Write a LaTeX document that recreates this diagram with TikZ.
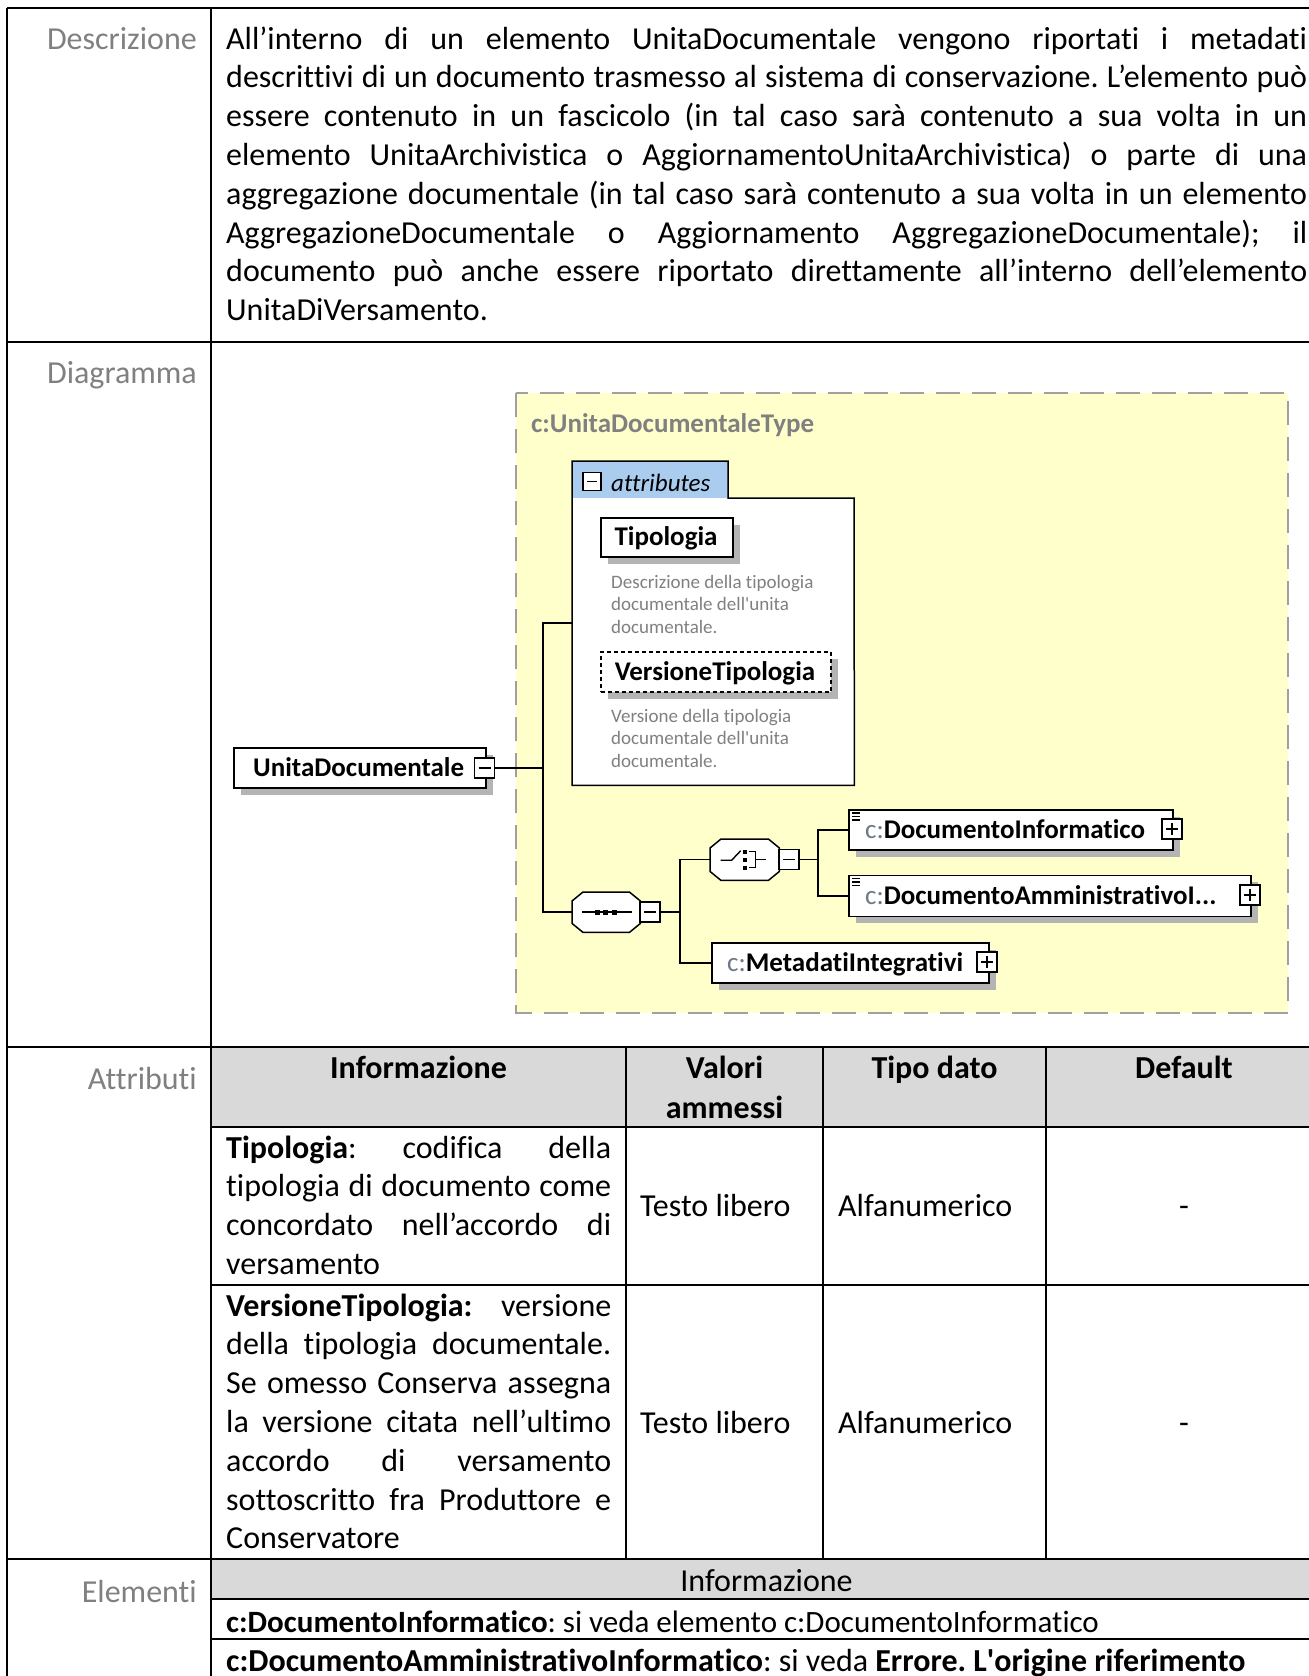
\documentclass[tikz,border=0pt]{standalone}
\usepackage{fontspec}
\setmainfont{Carlito}[Ligatures=NoCommon]
\usetikzlibrary{calc,shadows}

\definecolor{lblgray}{RGB}{128,128,128}
\definecolor{hdrgray}{RGB}{217,217,217}
\definecolor{typeyellow}{RGB}{255,255,204}
\definecolor{dashgray}{RGB}{160,160,160}
\definecolor{tabblue}{RGB}{170,204,238}
\definecolor{shadowc}{RGB}{180,180,180}
\definecolor{prefixgray}{RGB}{110,120,135}

\newcommand\jl[1]{\makebox[\linewidth][s]{#1}}
\newcommand\bodysize{\fontsize{32}{38.8}\selectfont}
\newcommand\elsize{\fontsize{27}{31}\selectfont}
\newcommand\notesize{\fontsize{19}{22.5}\selectfont}

\begin{document}
\frenchspacing
\begin{tikzpicture}[x=1pt,y=-1pt,
  rule/.style={line width=1.6, black},
  lbl/.style={anchor=base east, inner sep=0, text=lblgray, font=\bodysize},
  cell/.style={anchor=base west, inner sep=0, font=\bodysize},
  ccell/.style={anchor=base, inner sep=0, font=\bodysize},
  hcell/.style={anchor=base, inner sep=0, font=\bodysize\bfseries},
  elem/.style={draw=black, line width=1.5, fill=white, inner sep=0, anchor=north west,
    drop shadow={shadow xshift=7pt, shadow yshift=-7pt, fill=shadowc, opacity=1}},
  frame/.style={inner sep=0, anchor=north west},
  sq/.style={draw=black, line width=1.3, fill=white, minimum size=20, inner sep=0},
  sign/.style={line width=1.4, black},
  conn/.style={line width=1.5, black},
  ellbl/.style={anchor=base west, inner sep=0, font=\elsize},
  note/.style={anchor=base west, inner sep=0, text=lblgray, font=\notesize}
]
\useasboundingbox (0,0) rectangle (1309,1676);
\fill[white] (0,0) rectangle (1309,1676);

% ---------- table ----------
\fill[hdrgray] (211,1047) rectangle (1322,1127);
\fill[hdrgray] (211,1559) rectangle (1322,1599);

\draw[rule] (7,8) -- (1322,8);
\draw[rule] (7,8) -- (7,1681);
\draw[rule] (211,8) -- (211,1681);
\draw[rule] (7,342) -- (1322,342);
\draw[rule] (7,1047) -- (1322,1047);
\draw[rule] (211,1127) -- (1322,1127);
\draw[rule] (211,1285) -- (1322,1285);
\draw[rule] (7,1559) -- (1322,1559);
\draw[rule] (211,1599) -- (1322,1599);
\draw[rule] (211,1639) -- (1322,1639);
\draw[rule] (626,1047) -- (626,1559);
\draw[rule] (823,1047) -- (823,1559);
\draw[rule] (1046,1047) -- (1046,1559);

% row labels
\node[lbl] (lDesc) at (197,49) {Descrizione};
\node[lbl] (lDiag) at (197,383) {Diagramma};
\node[lbl] (lAttr) at (197,1089) {Attributi};
\node[lbl] (lElem) at (197,1602) {Elementi};

% description
\node[cell] (desc) at (226,49) {\parbox[t]{1081pt}{%
\jl{All’interno di un elemento UnitaDocumentale vengono riportati i metadati}\\
\jl{descrittivi di un documento trasmesso al sistema di conservazione. L’elemento può}\\
\jl{essere contenuto in un fascicolo (in tal caso sarà contenuto a sua volta in un}\\
\jl{elemento UnitaArchivistica o AggiornamentoUnitaArchivistica) o parte di una}\\
\jl{aggregazione documentale (in tal caso sarà contenuto a sua volta in un elemento}\\
\jl{AggregazioneDocumentale o Aggiornamento AggregazioneDocumentale); il}\\
\jl{documento può anche essere riportato direttamente all’interno dell’elemento}\\
UnitaDiVersamento.}};

% attributes table
\node[hcell] (hInfo) at (418.5,1078) {Informazione};
\node[hcell] (hVal1) at (724.5,1078) {Valori};
\node[hcell] (hVal2) at (724.5,1118) {ammessi};
\node[hcell] (hTipo) at (934.5,1078) {Tipo dato};
\node[hcell] (hDef) at (1184,1078) {Default};

\node[cell] (tipDesc) at (226,1158) {\parbox[t]{385pt}{%
\jl{\textbf{Tipologia}: codifica della}\\
\jl{tipologia di documento come}\\
\jl{concordato nell’accordo di}\\
versamento}};
\node[cell] (tipVal) at (640,1216) {Testo libero};
\node[cell] (tipType) at (838,1216) {Alfanumerico};
\node[ccell] (tipDef) at (1184,1216) {-};

\node[cell] (verDesc) at (226,1316) {\parbox[t]{385pt}{%
\jl{\textbf{VersioneTipologia:} versione}\\
\jl{della tipologia documentale.}\\
\jl{Se omesso Conserva assegna}\\
\jl{la versione citata nell’ultimo}\\
\jl{accordo di versamento}\\
\jl{sottoscritto fra Produttore e}\\
Conservatore}};
\node[cell] (verVal) at (640,1433) {Testo libero};
\node[cell] (verType) at (838,1433) {Alfanumerico};
\node[ccell] (verDef) at (1184,1433) {-};

% elements table
\node[ccell] (eHead) at (766.5,1591) {Informazione};
\node[cell, font=\fontsize{31}{38}\selectfont] (eRow1) at (226,1632) {\textbf{c:DocumentoInformatico}: si veda elemento c:DocumentoInformatico};
\node[cell] (eRow2) at (226,1671) {\textbf{c:DocumentoAmministrativoInformatico}: si veda \textbf{Errore. L\textquotesingle origine riferimento}};

% ---------- schema diagram ----------
\fill[typeyellow] (516,393) rectangle (1288,1013);
\draw[dashgray, line width=2, dash pattern=on 24pt off 12pt] (516,393) rectangle (1288,1013);
\node[anchor=base west, inner sep=0, text=lblgray, font=\elsize\bfseries] (typeName) at (531,432) {c:UnitaDocumentaleType};

% attributes group
\node[frame, minimum width=282, minimum height=324] (attr) at (572,461) {};
\fill[white] (572,498) rectangle (854,785);
\fill[tabblue] (572,461) rectangle (728,498);
\draw[line width=1.5] (attr.north west) -- (728,461) -- (728,498) -- (854,498) -- (attr.south east) -- (attr.south west) -- cycle;
\node[sq, minimum size=18] (attrm) at (592,481.5) {};
\draw[sign] ($(attrm.center)+(-5,0)$) -- ($(attrm.center)+(5,0)$);
\node[anchor=base west, inner sep=0, font=\fontsize{25}{30}\selectfont\itshape] (attrLbl) at (611,491) {attributes};

\node[elem, minimum width=132, minimum height=39] (tip) at (600,517) {};
\node[anchor=base, inner sep=0, font=\elsize\bfseries] (tipLbl) at (666,545.5) {Tipologia};
\node[note] (tipNote) at (611,588) {\parbox[t]{230pt}{Descrizione della tipologia\\documentale dell\textquotesingle unita\\documentale.}};

\node[elem, dash pattern=on 4pt off 3pt, minimum width=230, minimum height=40] (ver) at (600,651) {};
\node[anchor=base, inner sep=0, font=\elsize\bfseries] (verLbl) at (715,680) {VersioneTipologia};
\node[note] (verNote) at (611,722) {\parbox[t]{230pt}{Versione della tipologia\\documentale dell\textquotesingle unita\\documentale.}};

% root element
\node[elem, minimum width=252, minimum height=40] (ud) at (233,747) {};
\node[ellbl, font=\elsize\bfseries] (udLbl) at (253,776.5) {UnitaDocumentale};
\node[sq] (udm) at (484.5,768) {};
\draw[sign] ($(udm.center)+(-6,0)$) -- ($(udm.center)+(6,0)$);

% sequence compositor
\node[frame, minimum width=68, minimum height=40] (seq) at (572,892) {};
\begin{scope}[shift={(7,7)}]
\fill[shadowc] ($(seq.north west)+(11,0)$) -- ($(seq.north east)+(-11,0)$) -- ($(seq.north east)+(0,9)$) -- ($(seq.south east)+(0,-9)$) -- ($(seq.south east)+(-11,0)$) -- ($(seq.south west)+(11,0)$) -- ($(seq.south west)+(0,-9)$) -- ($(seq.north west)+(0,9)$) -- cycle;
\end{scope}
\filldraw[fill=white, draw=black, line width=1.5] ($(seq.north west)+(11,0)$) -- ($(seq.north east)+(-11,0)$) -- ($(seq.north east)+(0,9)$) -- ($(seq.south east)+(0,-9)$) -- ($(seq.south east)+(-11,0)$) -- ($(seq.south west)+(11,0)$) -- ($(seq.south west)+(0,-9)$) -- ($(seq.north west)+(0,9)$) -- cycle;
\draw[line width=1.5] ($(seq.west)+(10,0)$) -- ($(seq.east)+(-8,0)$);
\fill ($(seq.center)+(-11,-2.5)$) rectangle +(5,5);
\fill ($(seq.center)+(-3,-2.5)$) rectangle +(5,5);
\fill ($(seq.center)+(6,-2.5)$) rectangle +(5,5);
\node[sq] (seqm) at (650,912) {};
\draw[sign] ($(seqm.center)+(-6,0)$) -- ($(seqm.center)+(6,0)$);

% choice compositor
\node[frame, minimum width=69, minimum height=41] (chc) at (710,839) {};
\begin{scope}[shift={(7,7)}]
\fill[shadowc] ($(chc.north west)+(11,0)$) -- ($(chc.north east)+(-11,0)$) -- ($(chc.north east)+(0,9)$) -- ($(chc.south east)+(0,-9)$) -- ($(chc.south east)+(-11,0)$) -- ($(chc.south west)+(11,0)$) -- ($(chc.south west)+(0,-9)$) -- ($(chc.north west)+(0,9)$) -- cycle;
\end{scope}
\filldraw[fill=white, draw=black, line width=1.5] ($(chc.north west)+(11,0)$) -- ($(chc.north east)+(-11,0)$) -- ($(chc.north east)+(0,9)$) -- ($(chc.south east)+(0,-9)$) -- ($(chc.south east)+(-11,0)$) -- ($(chc.south west)+(11,0)$) -- ($(chc.south west)+(0,-9)$) -- ($(chc.north west)+(0,9)$) -- cycle;
\draw[line width=1.4] ($(chc.center)+(-24,0.5)$) -- ($(chc.center)+(-13,0.5)$) -- ($(chc.center)+(-4,-9)$);
\fill ($(chc.center)+(-2,-10)$) rectangle +(4,4);
\fill ($(chc.center)+(-2,-2)$) rectangle +(4,4);
\fill ($(chc.center)+(-2,6)$) rectangle +(4,4);
\draw[line width=1.4] ($(chc.center)+(4,-8)$) -- ($(chc.center)+(11,-8)$) -- ($(chc.center)+(11,8)$) -- ($(chc.center)+(4,8)$);
\draw[line width=1.4] ($(chc.center)+(11,0)$) -- ($(chc.center)+(21,0)$);
\node[sq] (chcm) at (789,859.5) {};
\draw[sign] ($(chcm.center)+(-6,0)$) -- ($(chcm.center)+(6,0)$);

% child elements
\node[elem, minimum width=324, minimum height=40] (docinf) at (848,809) {};
\node[ellbl] (docinfLbl) at (865,838.5) {\textcolor{prefixgray}{c:}\textbf{DocumentoInformatico}};
\node[sq] (docinfp) at (1172,829) {};
\draw[sign] ($(docinfp.center)+(-6,0)$) -- ($(docinfp.center)+(6,0)$);
\draw[sign] ($(docinfp.center)+(0,-6)$) -- ($(docinfp.center)+(0,6)$);
\draw[line width=1.2] ($(docinf.north west)+(4,4)$) -- +(8,0);
\draw[line width=1.2] ($(docinf.north west)+(4,7.5)$) -- +(8,0);
\draw[line width=1.2] ($(docinf.north west)+(4,11)$) -- +(8,0);

\node[elem, minimum width=402, minimum height=41] (docamm) at (848,874.5) {};
\node[ellbl] (docammLbl) at (865,904.5) {\textcolor{prefixgray}{c:}\textbf{DocumentoAmministrativoI...}};
\node[sq] (docammp) at (1250,895) {};
\draw[sign] ($(docammp.center)+(-6,0)$) -- ($(docammp.center)+(6,0)$);
\draw[sign] ($(docammp.center)+(0,-6)$) -- ($(docammp.center)+(0,6)$);
\draw[line width=1.2] ($(docamm.north west)+(4,4)$) -- +(8,0);
\draw[line width=1.2] ($(docamm.north west)+(4,7.5)$) -- +(8,0);
\draw[line width=1.2] ($(docamm.north west)+(4,11)$) -- +(8,0);

\node[elem, minimum width=277, minimum height=40] (meta) at (711,942) {};
\node[ellbl] (metaLbl) at (727,971.5) {\textcolor{prefixgray}{c:}\textbf{MetadatiIntegrativi}};
\node[sq] (metap) at (987,962) {};
\draw[sign] ($(metap.center)+(-6,0)$) -- ($(metap.center)+(6,0)$);
\draw[sign] ($(metap.center)+(0,-6)$) -- ($(metap.center)+(0,6)$);

% connectors
\coordinate (j1) at (543,768);
\coordinate (j2) at (680,912);
\coordinate (j3) at (818,859.5);
\draw[conn] (udm.east) -- (j1);
\draw[conn] (j1) |- (attr.west);
\draw[conn] (j1) |- (seq.west);
\draw[conn] (seqm.east) -- (j2);
\draw[conn] (j2) |- (chc.west);
\draw[conn] (j2) |- (meta.west);
\draw[conn] (chcm.east) -- (j3);
\draw[conn] (j3) |- (docinf.west);
\draw[conn] (j3) |- (docamm.west);
\end{tikzpicture}
\end{document}
